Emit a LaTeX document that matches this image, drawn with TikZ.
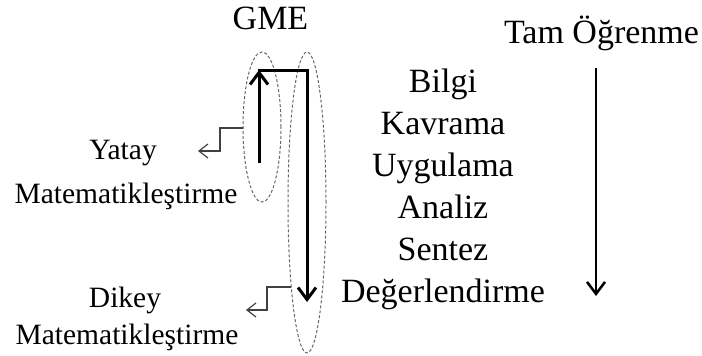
\documentclass[tikz,border=0pt]{standalone}
\usepackage{fontspec}
\setmainfont{Liberation Serif}
\usetikzlibrary{arrows.meta,shapes.geometric}
\begin{document}
\begin{tikzpicture}[x=1pt,y=-1pt,
  big/.style={font=\fontsize{34}{40}\selectfont, anchor=base, inner sep=0pt},
  small/.style={font=\fontsize{29.5}{36}\selectfont, anchor=base, inner sep=0pt},
  mainarrow/.style={line width=3pt, -{Straight Barb[length=12pt,width=18pt]}},
  sidearrow/.style={line width=2.5pt, -{Straight Barb[length=12pt,width=18pt]}},
  conn/.style={line width=1.2pt, draw=black!75, -{Straight Barb[length=9pt,width=14pt]}},
  loopell/.style={draw=black!60, line width=1pt, dash pattern=on 3pt off 2pt, ellipse, inner sep=0pt, minimum width=38pt}]
\useasboundingbox (0,0) rectangle (702,356);

% titles
\node[big] (gme) at (270.5,30) {GME};
\node[big] (tam) at (601.5,43) {Tam Öğrenme};

% taxonomy column
\node[big] (b1) at (443,92) {Bilgi};
\node[big] (b2) at (443,134) {Kavrama};
\node[big] (b3) at (443,176) {Uygulama};
\node[big] (b4) at (443,218) {Analiz};
\node[big] (b5) at (443,260) {Sentez};
\node[big] (b6) at (443,302) {Değerlendirme};

% left labels
\node[small] (y1) at (123,159) {Yatay};
\node[small] (y2) at (126,203) {Matematikleştirme};
\node[small] (d1) at (125,307) {Dikey};
\node[small] (d2) at (127,344) {Matematikleştirme};

% dashed ellipses
\node[loopell, minimum height=150pt] (ell1) at (262,127) {};
\node[loopell, minimum height=301pt] (ell2) at (307,202.5) {};

% main arrows
\coordinate (upS) at (259,163);
\coordinate (upE) at (259,70);
\coordinate (topL) at (257.5,70);
\coordinate (topR) at (307,70);
\coordinate (downE) at (307,302);
\draw[mainarrow] (upS) -- (upE);
\draw[mainarrow, line join=miter] (topL) -- (topR) -- (downE);

% right arrow
\coordinate (tS) at (596,68);
\coordinate (tE) at (596,296);
\draw[sidearrow] (tS) -- (tE);

% connectors to labels
\coordinate (c1s) at (243,128);
\coordinate (c1e) at (198,151);
\draw[conn] (c1s) -- (220,128) -- (220,151) -- (c1e);
\coordinate (c2s) at (290.5,287);
\coordinate (c2e) at (246,310);
\draw[conn] (c2s) -- (267,287) -- (267,310) -- (c2e);
\end{tikzpicture}
\end{document}
